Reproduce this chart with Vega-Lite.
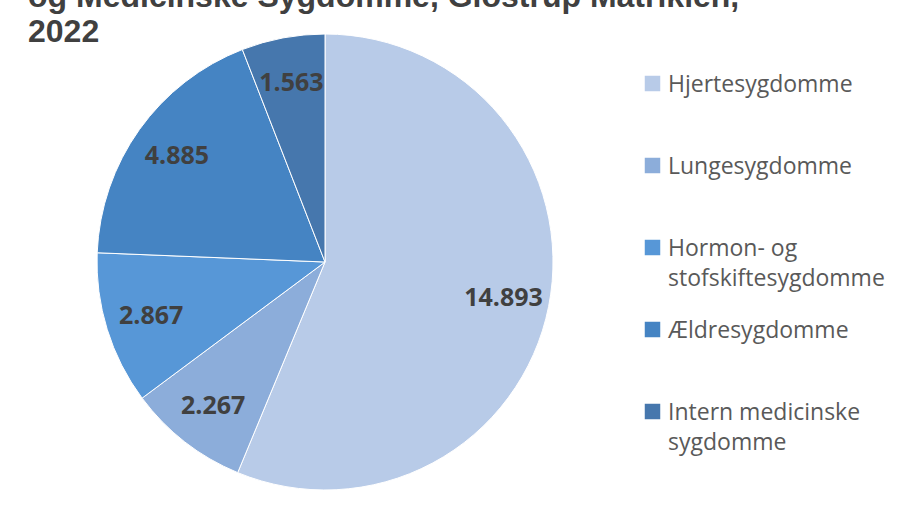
{
  "$schema": "https://vega.github.io/schema/vega-lite/v6.json",
  "autosize": "none",
  "width": 650,
  "height": 420,
  "padding": {"left": 0, "top": 52, "right": 258, "bottom": 37},
  "background": "white",
  "title": {
    "text": ["og Medicinske Sygdomme, Glostrup Matriklen,", "2022"],
    "anchor": "start",
    "frame": "group",
    "dx": 28,
    "dy": 20,
    "offset": 3,
    "font": "Liberation Sans",
    "fontSize": 32,
    "fontWeight": "bold",
    "color": "#404040",
    "lineHeight": 35
  },
  "data": {
    "values": [
      {"kategori": "Hjertesygdomme", "patienter": 14893, "rang": 1},
      {"kategori": "Lungesygdomme", "patienter": 2267, "rang": 2},
      {"kategori": "Hormon- og stofskiftesygdomme", "patienter": 2867, "rang": 3},
      {"kategori": "Ældresygdomme", "patienter": 4885, "rang": 4},
      {"kategori": "Intern medicinske sygdomme", "patienter": 1563, "rang": 5}
    ]
  },
  "encoding": {
    "theta": {"field": "patienter", "type": "quantitative", "stack": true},
    "order": {"field": "rang", "type": "quantitative"}
  },
  "layer": [
    {
      "mark": {"type": "arc", "outerRadius": 228, "stroke": "white", "strokeWidth": 1},
      "encoding": {
        "color": {
          "field": "kategori",
          "type": "nominal",
          "scale": {
            "domain": ["Hjertesygdomme", "Lungesygdomme", "Hormon- og stofskiftesygdomme", "Ældresygdomme", "Intern medicinske sygdomme"],
            "range": ["#b8cbe8", "#8cadda", "#5797d7", "#4584c3", "#4677ad"]
          },
          "legend": {
            "title": null,
            "orient": "none",
            "legendX": 641,
            "legendY": 20,
            "symbolType": "square",
            "symbolSize": 240,
            "symbolStrokeWidth": 0,
            "symbolOpacity": 1,
            "labelFont": "Open Sans",
            "labelFontSize": 23,
            "labelColor": "#595959",
            "labelLimit": 400,
            "labelOffset": 4,
            "labelBaseline": "alphabetic",
            "rowPadding": 27,
            "labelExpr": "datum.label == 'Hormon- og stofskiftesygdomme' ? ['Hormon- og', 'stofskiftesygdomme'] : datum.label == 'Intern medicinske sygdomme' ? ['Intern medicinske', 'sygdomme'] : [datum.label, '']"
          }
        }
      }
    },
    {
      "mark": {"type": "text", "radius": 182, "font": "Open Sans", "fontWeight": "bold", "fontSize": 25, "fill": "#404040"},
      "encoding": {
        "text": {"field": "patienter", "type": "quantitative", "format": ","}
      }
    }
  ],
  "config": {
    "view": {"stroke": null},
    "style": {"guide-label": {"lineHeight": 30, "dy": 8}},
    "locale": {"number": {"decimal": ",", "thousands": ".", "grouping": [3], "currency": ["", " kr."]}}
  }
}
